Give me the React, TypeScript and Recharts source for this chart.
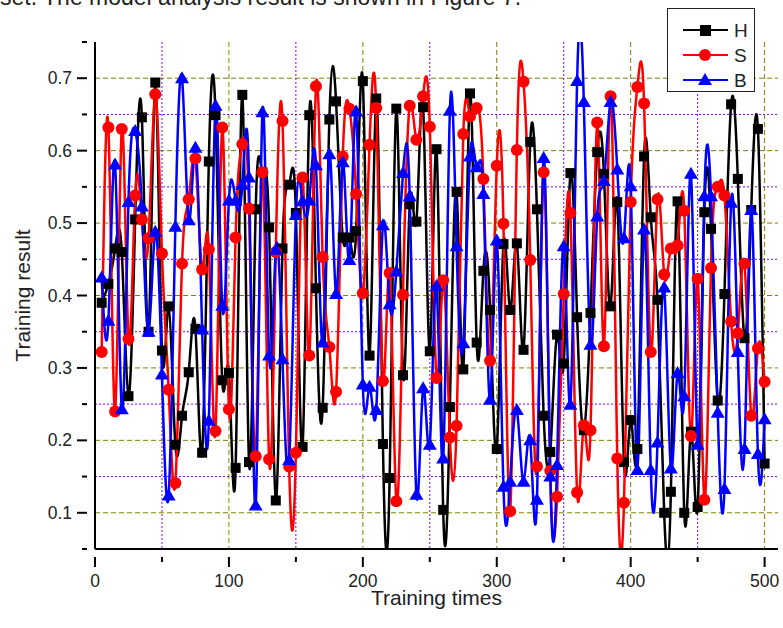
import { CartesianGrid, Label, Line, LineChart, XAxis, YAxis } from "recharts";

const times = [
  5, 10, 15, 20, 25, 30, 35, 40, 45, 50, 55, 60, 65, 70, 75, 80, 85, 90, 95, 100,
  105, 110, 115, 120, 125, 130, 135, 140, 145, 150, 155, 160, 165, 170, 175, 180, 185, 190, 195, 200,
  205, 210, 215, 220, 225, 230, 235, 240, 245, 250, 255, 260, 265, 270, 275, 280, 285, 290, 295, 300,
  305, 310, 315, 320, 325, 330, 335, 340, 345, 350, 355, 360, 365, 370, 375, 380, 385, 390, 395, 400,
  405, 410, 415, 420, 425, 430, 435, 440, 445, 450, 455, 460, 465, 470, 475, 480, 485, 490, 495, 500,
];

const seriesH = [
  0.39, 0.416, 0.465, 0.46, 0.261, 0.505, 0.646, 0.35, 0.694, 0.324,
  0.385, 0.194, 0.234, 0.294, 0.354, 0.183, 0.585, 0.649, 0.283, 0.293,
  0.162, 0.677, 0.17, 0.519, 0.57, 0.494, 0.117, 0.465, 0.553, 0.514,
  0.191, 0.649, 0.41, 0.245, 0.643, 0.668, 0.48, 0.48, 0.489, 0.696,
  0.317, 0.672, 0.195, 0.148, 0.658, 0.29, 0.526, 0.502, 0.66, 0.323,
  0.602, 0.104, 0.246, 0.543, 0.298, 0.679, 0.335, 0.434, 0.38, 0.188,
  0.471, 0.38, 0.472, 0.325, 0.612, 0.519, 0.234, 0.184, 0.346, 0.306,
  0.569, 0.37, 0.214, 0.376, 0.598, 0.568, 0.385, 0.529, 0.17, 0.228,
  0.188, 0.592, 0.508, 0.394, 0.1, 0.129, 0.53, 0.1, 0.212, 0.108,
  0.515, 0.492, 0.255, 0.402, 0.664, 0.561, 0.341, 0.518, 0.63, 0.168,
];

const seriesS = [
  0.322, 0.632, 0.24, 0.63, 0.34, 0.538, 0.505, 0.479, 0.678, 0.458,
  0.27, 0.141, 0.444, 0.533, 0.589, 0.436, 0.464, 0.213, 0.632, 0.243,
  0.48, 0.609, 0.52, 0.178, 0.57, 0.174, 0.46, 0.641, 0.164, 0.183,
  0.563, 0.317, 0.689, 0.453, 0.329, 0.267, 0.592, 0.658, 0.54, 0.403,
  0.608, 0.659, 0.282, 0.431, 0.116, 0.401, 0.662, 0.615, 0.675, 0.633,
  0.286, 0.421, 0.204, 0.22, 0.623, 0.647, 0.659, 0.561, 0.31, 0.579,
  0.499, 0.102, 0.601, 0.695, 0.449, 0.164, 0.57, 0.158, 0.122, 0.402,
  0.514, 0.128, 0.221, 0.214, 0.639, 0.33, 0.675, 0.175, 0.114, 0.529,
  0.688, 0.665, 0.322, 0.533, 0.429, 0.465, 0.469, 0.517, 0.206, 0.423,
  0.118, 0.438, 0.55, 0.538, 0.364, 0.348, 0.444, 0.234, 0.327, 0.281,
];

const seriesB = [
  0.425, 0.365, 0.581, 0.243, 0.529, 0.627, 0.523, 0.35, 0.488, 0.291,
  0.124, 0.495, 0.7, 0.504, 0.604, 0.353, 0.227, 0.662, 0.386, 0.531,
  0.531, 0.553, 0.563, 0.11, 0.653, 0.317, 0.463, 0.312, 0.173, 0.511,
  0.53, 0.531, 0.58, 0.335, 0.595, 0.402, 0.584, 0.449, 0.654, 0.277,
  0.274, 0.242, 0.497, 0.388, 0.433, 0.569, 0.537, 0.125, 0.272, 0.194,
  0.413, 0.175, 0.655, 0.468, 0.334, 0.592, 0.577, 0.54, 0.256, 0.476,
  0.136, 0.143, 0.242, 0.143, 0.2, 0.118, 0.59, 0.15, 0.166, 0.468,
  0.249, 0.696, 0.667, 0.332, 0.509, 0.558, 0.667, 0.574, 0.479, 0.551,
  0.159, 0.491, 0.159, 0.197, 0.411, 0.161, 0.293, 0.261, 0.568, 0.194,
  0.537, 0.537, 0.238, 0.133, 0.528, 0.322, 0.188, 0.518, 0.181, 0.229,
];

const xTicks = [0, 50, 100, 150, 200, 250, 300, 350, 400, 450, 500];
const xLabelled = [0, 100, 200, 300, 400, 500];
const yTicks = [0.05, 0.1, 0.15, 0.2, 0.25, 0.3, 0.35, 0.4, 0.45, 0.5, 0.55, 0.6, 0.65, 0.7, 0.75];
const yLabelled = [0.1, 0.2, 0.3, 0.4, 0.5, 0.6, 0.7];
const xMajorGrid = [100, 200, 300, 400, 500];
const xMinorGrid = [50, 150, 250, 350, 450];
const yMajorGrid = [0.1, 0.2, 0.3, 0.4, 0.5, 0.6, 0.7];
const yMinorGrid = [0.15, 0.25, 0.35, 0.45, 0.55, 0.65];

const data = times.map((t, i) => ({ t, H: seriesH[i], S: seriesS[i], B: seriesB[i] }));

const FONT = '"Liberation Sans", Arial, sans-serif';
const legendRows = [
  { name: "H", color: "#000000", y: 30 },
  { name: "S", color: "#ff0000", y: 55 },
  { name: "B", color: "#0000ff", y: 80 },
];

function SquareDot({ cx, cy, index }: any) {
  return <rect key={index} x={cx - 5} y={cy - 5} width={10} height={10} fill="#000" />;
}

function TriangleDot({ cx, cy, index }: any) {
  return <polygon key={index} points={`${cx},${cy - 7} ${cx + 7},${cy + 5} ${cx - 7},${cy + 5}`} fill="#00f" />;
}

function XTick({ x, y, payload }: any) {
  const major = xLabelled.includes(payload.value);
  return (
    <g>
      <line x1={x} x2={x} y1={y} y2={y + (major ? 10 : 5)} stroke="#000" strokeWidth={2} />
      {major && (
        <text x={x} y={y + 30} textAnchor="middle" fontSize={17.5} fontFamily={FONT} fill="#222">
          {payload.value}
        </text>
      )}
    </g>
  );
}

function YTick({ x, y, payload }: any) {
  const major = yLabelled.includes(payload.value);
  return (
    <g>
      <line x1={x} x2={x - (major ? 10 : 5)} y1={y} y2={y} stroke="#000" strokeWidth={2} />
      {major && (
        <text x={x - 15} y={y + 6} textAnchor="end" fontSize={17.5} fontFamily={FONT} fill="#222">
          {payload.value.toFixed(1)}
        </text>
      )}
    </g>
  );
}

export default function App() {
  return (
    <div style={{ position: "absolute", left: 0, top: 0, width: 783, height: 628, overflow: "hidden", background: "#fff" }}>
      <LineChart
        width={783}
        height={628}
        data={data}
        margin={{ top: 42, right: 5, bottom: 19, left: 25 }}
      >
        <CartesianGrid
          horizontalValues={yMajorGrid}
          verticalValues={xMajorGrid}
          stroke="#808000"
          strokeDasharray="5 3"
        />
        <CartesianGrid
          horizontalValues={yMinorGrid}
          verticalValues={xMinorGrid}
          stroke="#8000ff"
          strokeDasharray="2 2"
        />
        <XAxis
          dataKey="t"
          type="number"
          domain={[0, 510]}
          ticks={xTicks}
          tick={<XTick />}
          tickLine={false}
          axisLine={{ stroke: "#000", strokeWidth: 2 }}
          height={60}
          allowDataOverflow
        >
          <Label value="Training times" position="insideBottom" offset={4} fontSize={21} fontFamily={FONT} fill="#222" />
        </XAxis>
        <YAxis
          type="number"
          domain={[0.05, 0.75]}
          ticks={yTicks}
          tick={<YTick />}
          tickLine={false}
          axisLine={{ stroke: "#000", strokeWidth: 2 }}
          width={70}
          allowDataOverflow
        >
          <Label value="Training result" angle={-90} position="insideLeft" offset={-2} fontSize={21} fontFamily={FONT} fill="#222" style={{ textAnchor: "middle" }} />
        </YAxis>
        <Line dataKey="H" type="natural" stroke="#000" strokeWidth={2.5} dot={<SquareDot />} activeDot={false} isAnimationActive={false} />
        <Line dataKey="S" type="natural" stroke="#f00" strokeWidth={2.5} dot={{ r: 6, fill: "#f00", stroke: "#f00", strokeWidth: 0 }} activeDot={false} isAnimationActive={false} />
        <Line dataKey="B" type="natural" stroke="#00f" strokeWidth={2.5} dot={<TriangleDot />} activeDot={false} isAnimationActive={false} />
      </LineChart>

      <div style={{ position: "absolute", left: 0, top: -17, width: 783, fontFamily: FONT, fontSize: 23, lineHeight: "28px", color: "#222", whiteSpace: "nowrap" }}>
        set. The model analysis result is shown in Figure 7.
      </div>

      <svg width={90} height={86} viewBox="666 7 90 86" style={{ position: "absolute", left: 666, top: 7 }}>
        <rect x={667.5} y={8.5} width={87} height={83} fill="#fff" stroke="#222" strokeWidth={1} />
        {legendRows.map((row) => (
          <g key={row.name}>
            <line x1={683} x2={728} y1={row.y} y2={row.y} stroke={row.color} strokeWidth={2} />
            {row.name === "H" && <rect x={700} y={row.y - 5} width={11} height={11} fill={row.color} />}
            {row.name === "S" && <circle cx={705} cy={row.y} r={6} fill={row.color} />}
            {row.name === "B" && <polygon points={`705,${row.y - 7} 712,${row.y + 5} 698,${row.y + 5}`} fill={row.color} />}
            <text x={734} y={row.y + 7} fontSize={19} fontFamily={FONT} fill="#222">{row.name}</text>
          </g>
        ))}
      </svg>
    </div>
  );
}
